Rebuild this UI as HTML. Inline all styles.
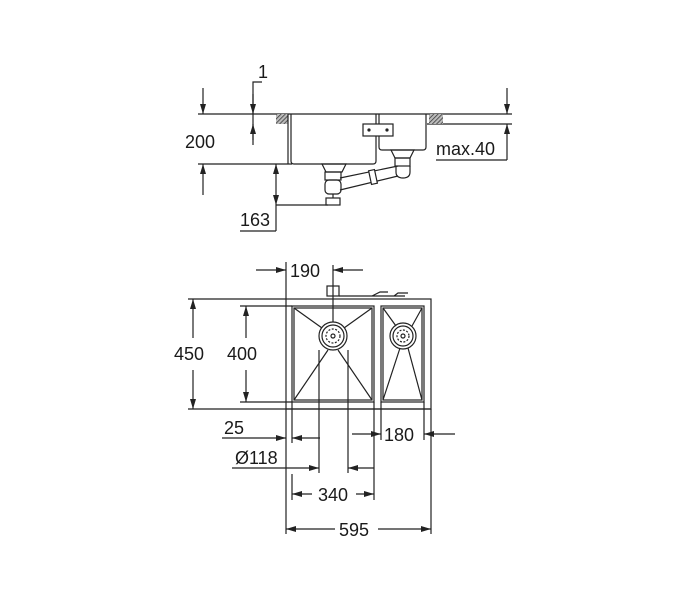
<!DOCTYPE html>
<html><head><style>body{margin:0;background:#fff}svg{display:block}text{font-family:"Liberation Sans",sans-serif;font-size:18px;fill:#1a1a1a}</style></head><body>
<svg width="700" height="600" viewBox="0 0 700 600" xmlns="http://www.w3.org/2000/svg">
<defs>
<marker id="a" viewBox="0 0 10 6" refX="10" refY="3" markerWidth="11" markerHeight="6" orient="auto" markerUnits="userSpaceOnUse"><path d="M0,0L10,3L0,6z" fill="#222"/></marker>
<pattern id="h" width="3" height="3" patternUnits="userSpaceOnUse" patternTransform="rotate(45)"><rect width="3" height="3" fill="#bbb"/><line x1="0" y1="0" x2="0" y2="3" stroke="#333" stroke-width="1.5"/></pattern>
</defs>
<g stroke="#222" stroke-width="1.2" fill="none">
<line x1="198" y1="114" x2="512" y2="114"/>
<line x1="427" y1="124" x2="512" y2="124"/>
<line x1="198" y1="164" x2="292" y2="164"/>
<rect x="276" y="114" width="12" height="10" fill="url(#h)" stroke="none"/>
<rect x="429" y="114" width="14" height="10" fill="url(#h)" stroke="none"/>
<path d="M291,114V161Q291,164 294,164H373Q376,164 376,161V114"/>
<path d="M288,114V164"/>
<path d="M379,114V147Q379,150 382,150H423Q426,150 426,147V114"/>
<rect x="363" y="124" width="30" height="12" fill="#fff"/>
<circle cx="369" cy="130" r="1" fill="#222"/><circle cx="387" cy="130" r="1" fill="#222"/>
<path d="M322,164H346L342,172H326Z"/>
<path d="M391,150H414L410,158H395Z"/>
<rect x="325" y="172" width="16" height="8"/>
<rect x="325" y="180" width="16" height="14" rx="4"/>
<rect x="326" y="198" width="14" height="7"/>
<line x1="333" y1="194" x2="333" y2="198"/>
<path d="M340,178L398,166M340,190L398,176"/>
<rect x="370" y="170" width="6" height="14" transform="rotate(-12 373 177)" fill="#fff"/>
<rect x="395" y="158" width="15" height="8"/>
<path d="M396,166V172Q396,178 403,178Q410,178 410,172V166"/>
<path d="M262,82H253V145"/>
<line x1="253" y1="94" x2="253" y2="114" marker-end="url(#a)"/>
<line x1="253" y1="140" x2="253" y2="124" marker-end="url(#a)"/>
<line x1="203" y1="88" x2="203" y2="114" marker-end="url(#a)"/>
<line x1="203" y1="195" x2="203" y2="164" marker-end="url(#a)"/>
<line x1="507" y1="88" x2="507" y2="114" marker-end="url(#a)"/>
<line x1="507" y1="160" x2="507" y2="124" marker-end="url(#a)"/>
<line x1="436" y1="160" x2="507" y2="160"/>
<line x1="276" y1="185" x2="276" y2="164" marker-end="url(#a)"/>
<line x1="276" y1="185" x2="276" y2="205" marker-end="url(#a)"/>
<line x1="276" y1="205" x2="276" y2="231"/>
<line x1="276" y1="205" x2="328" y2="205"/>
<line x1="240" y1="231" x2="276" y2="231"/>

<rect x="286" y="299" width="145" height="110"/>
<rect x="292" y="306" width="82" height="96"/>
<rect x="294" y="308" width="78" height="92"/>
<rect x="381" y="306" width="43" height="96"/>
<rect x="383" y="308" width="39" height="92"/>
<path d="M294,308L322,328M372,308L344,328M294,400L328,350M372,400L338,350"/>
<path d="M383,308L396,326M422,308L412,326M383,400L400,348M422,400L408,348"/>
<circle cx="333" cy="336" r="14"/><circle cx="333" cy="336" r="11"/><circle cx="333" cy="336" r="7" stroke-dasharray="2 1.5"/><circle cx="333" cy="336" r="2"/>
<circle cx="403" cy="336" r="13"/><circle cx="403" cy="336" r="10"/><circle cx="403" cy="336" r="6" stroke-dasharray="2 1.5"/><circle cx="403" cy="336" r="2"/>
<rect x="327" y="286" width="12" height="10"/>
<path d="M339,296H405M372,296L380,292H388M394,296L398,293H408"/>
<line x1="333" y1="265" x2="333" y2="322"/>
<line x1="286" y1="262" x2="286" y2="299"/>
<line x1="256" y1="270" x2="286" y2="270" marker-end="url(#a)"/>
<line x1="363" y1="270" x2="333" y2="270" marker-end="url(#a)"/>
<line x1="188" y1="299" x2="286" y2="299"/>
<line x1="188" y1="409" x2="431" y2="409"/>
<line x1="193" y1="338" x2="193" y2="299" marker-end="url(#a)"/>
<line x1="193" y1="370" x2="193" y2="409" marker-end="url(#a)"/>
<line x1="240" y1="306" x2="292" y2="306"/>
<line x1="240" y1="402" x2="292" y2="402"/>
<line x1="246" y1="338" x2="246" y2="306" marker-end="url(#a)"/>
<line x1="246" y1="370" x2="246" y2="402" marker-end="url(#a)"/>
<line x1="286" y1="409" x2="286" y2="534"/>
<line x1="292" y1="402" x2="292" y2="443"/>
<line x1="292" y1="474" x2="292" y2="500"/>
<line x1="319" y1="350" x2="319" y2="473"/>
<line x1="348" y1="350" x2="348" y2="473"/>
<line x1="374" y1="402" x2="374" y2="500"/>
<line x1="381" y1="402" x2="381" y2="440"/>
<line x1="424" y1="402" x2="424" y2="440"/>
<line x1="431" y1="409" x2="431" y2="534"/>
<line x1="222" y1="438" x2="286" y2="438" marker-end="url(#a)"/>
<line x1="320" y1="438" x2="292" y2="438" marker-end="url(#a)"/>
<line x1="232" y1="468" x2="319" y2="468" marker-end="url(#a)"/>
<line x1="374" y1="468" x2="348" y2="468" marker-end="url(#a)"/>
<line x1="312" y1="494" x2="292" y2="494" marker-end="url(#a)"/>
<line x1="356" y1="494" x2="374" y2="494" marker-end="url(#a)"/>
<line x1="335" y1="529" x2="286" y2="529" marker-end="url(#a)"/>
<line x1="378" y1="529" x2="431" y2="529" marker-end="url(#a)"/>
<line x1="352" y1="434" x2="381" y2="434" marker-end="url(#a)"/>
<line x1="455" y1="434" x2="424" y2="434" marker-end="url(#a)"/>
</g>
<g>
<text x="258" y="78">1</text>
<text x="185" y="148">200</text>
<text x="436" y="155">max.40</text>
<text x="240" y="226">163</text>
<text x="290" y="277">190</text>
<text x="174" y="360">450</text>
<text x="227" y="360">400</text>
<text x="224" y="434">25</text>
<text x="235" y="464">Ø118</text>
<text x="318" y="501">340</text>
<text x="339" y="536">595</text>
<text x="384" y="441">180</text>
</g>
</svg>
</body></html>
